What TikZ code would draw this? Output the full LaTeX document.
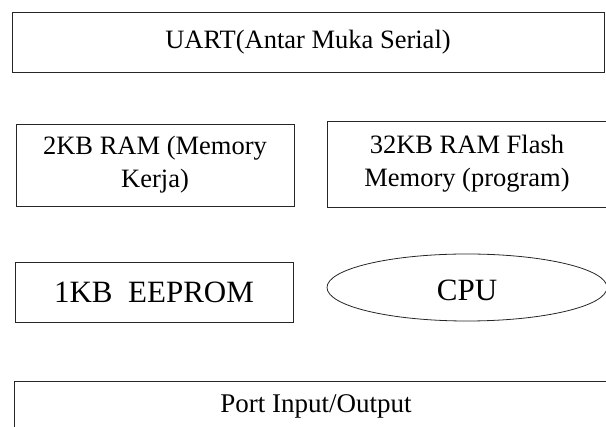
\documentclass[tikz,border=0pt]{standalone}
\usepackage{fontspec}
\setmainfont{Liberation Serif}
\usetikzlibrary{shapes.geometric}
\begin{document}
\begin{tikzpicture}[x=1pt,y=1pt,
  blk/.style={draw=black!85,line width=0.9pt,rectangle,inner sep=0pt,align=center},
  txtA/.style={font=\fontsize{26.5}{33}\selectfont},
  txtB/.style={font=\fontsize{31}{37}\selectfont}]
\useasboundingbox (0,0) rectangle (606,-427);
\clip (0,0) rectangle (606,-427);
\node[blk,txtA,minimum width=592pt,minimum height=60pt] (uart) at (308,-42) {UART(Antar Muka Serial)};
\node[blk,txtA,minimum width=278pt,minimum height=82pt] (ram) at (155,-165) {2KB RAM (Memory\\Kerja)};
\node[blk,txtA,minimum width=280pt,minimum height=86pt] (flash) at (467,-164) {32KB RAM Flash\\Memory (program)};
\node[blk,txtB,minimum width=278pt,minimum height=60pt] (eeprom) at (154,-292) {1KB\ \ EEPROM};
\node[draw=black!85,line width=0.8pt,ellipse,inner sep=0pt,minimum width=280pt,minimum height=67pt] (cpu) at (467,-287.5) {};
\node[txtB,anchor=base] (cputext) at (467,-301) {CPU};
\node[blk,minimum width=606pt,minimum height=90pt,anchor=north west] (port) at (14,-381) {};
\node[font=\fontsize{27}{33}\selectfont,anchor=base] (porttext) at (316,-413) {Port Input/Output};
\end{tikzpicture}
\end{document}
